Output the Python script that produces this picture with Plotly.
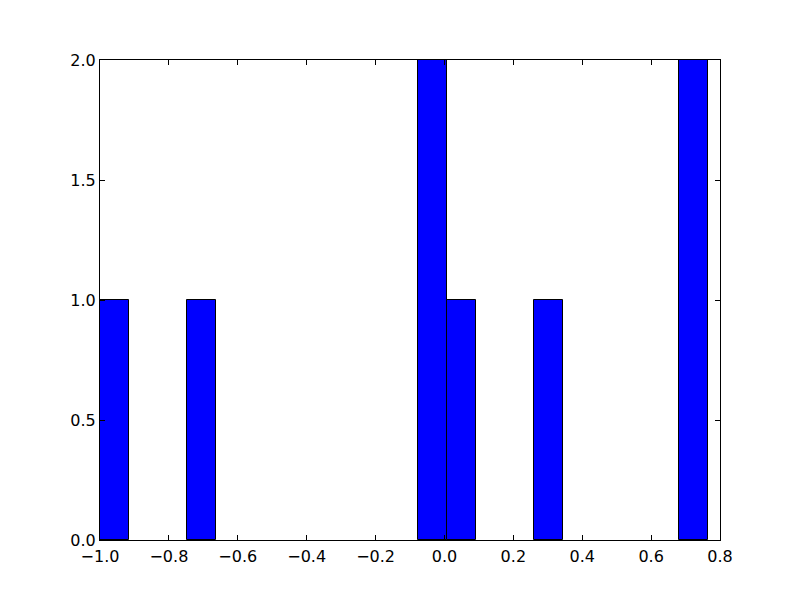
import numpy as np
import plotly.graph_objects as go

# Histogram data
bin_min = -1.0
bin_max = 0.764
n_bins = 21
counts = [1, 0, 0, 1, 0, 0, 0, 0, 0, 0, 0, 2, 1, 0, 0, 1, 0, 0, 0, 0, 2]

x_ticks = [-1.0, -0.8, -0.6, -0.4, -0.2, 0.0, 0.2, 0.4, 0.6, 0.8]
y_ticks = [0.0, 0.5, 1.0, 1.5, 2.0]

edges = np.linspace(bin_min, bin_max, n_bins + 1)
width = edges[1] - edges[0]
centers = (edges[:-1] + edges[1:]) / 2

xs = [c for c, n in zip(centers, counts) if n > 0]
ys = [n for n in counts if n > 0]

fig = go.Figure(go.Bar(
    x=xs, y=ys, width=[width] * len(xs),
    marker=dict(color="#0000ff", line=dict(color="black", width=1)),
))

axis_common = dict(
    showline=True, linecolor="black", linewidth=1, mirror="allticks",
    ticks="inside", ticklen=5, tickcolor="black", tickwidth=1,
    showgrid=False, zeroline=False,
    tickfont=dict(family="DejaVu Sans", size=16, color="black"),
)

fig.update_layout(
    width=800, height=600,
    margin=dict(l=92, r=88, t=52, b=68),
    paper_bgcolor="white", plot_bgcolor="white",
    showlegend=False, bargap=0,
    xaxis=dict(range=[-1.0, 0.8], tickvals=x_ticks, tickformat=".1f",
               ticklabelstandoff=2, **axis_common),
    yaxis=dict(range=[0, 2.0], tickvals=y_ticks, tickformat=".1f", **axis_common),
)

fig.write_html("out.html")
